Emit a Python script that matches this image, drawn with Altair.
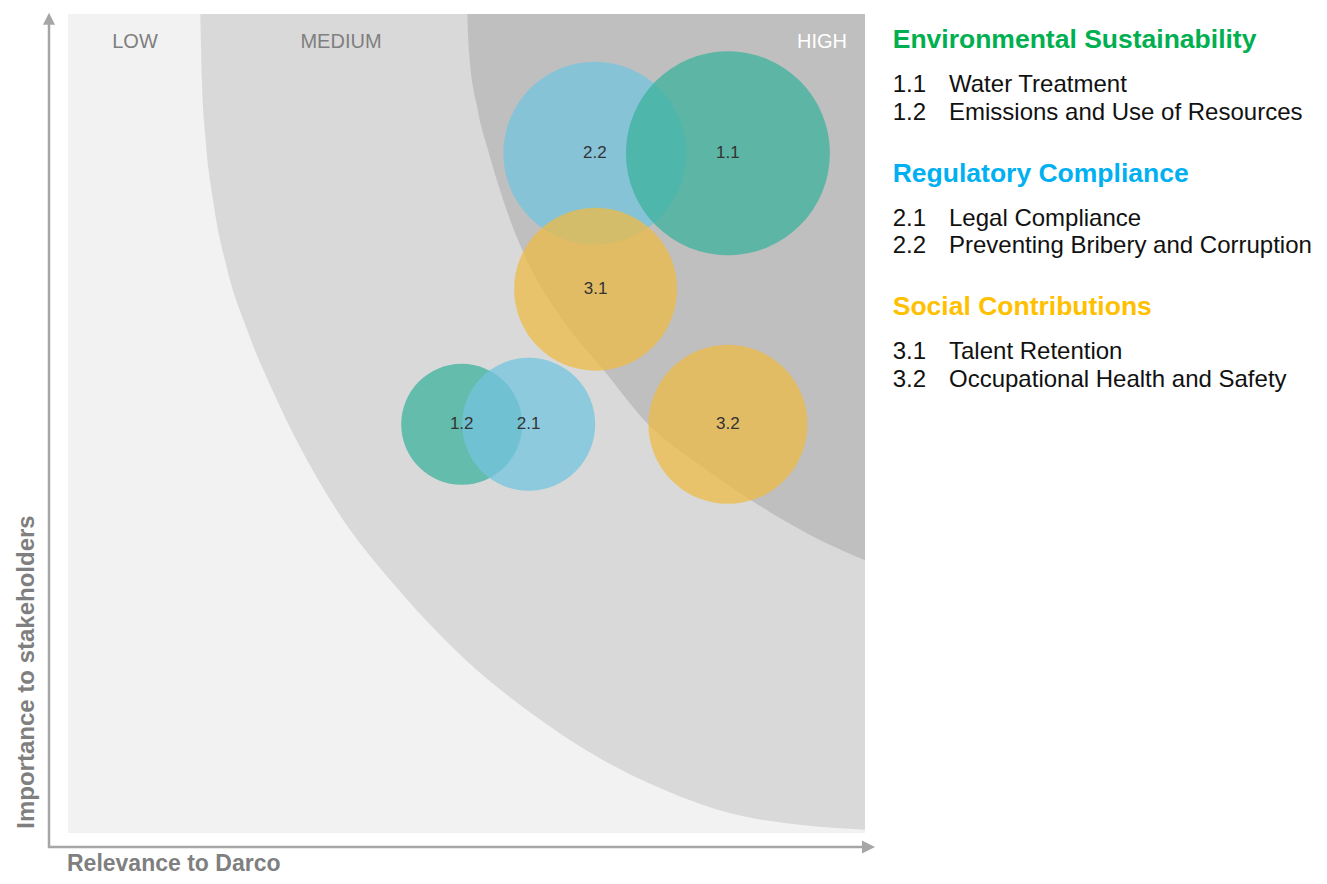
import altair as alt
import pandas as pd

# ---------------- data ----------------
codes = ["2.2", "1.1", "3.1", "1.2", "2.1", "3.2"]
groups = ["Regulatory Compliance", "Environmental Sustainability", "Social Contributions",
          "Environmental Sustainability", "Regulatory Compliance", "Social Contributions"]
relevance = [66.1, 82.8, 66.2, 49.4, 57.8, 82.8]      # x, 0-100
importance = [83.0, 83.0, 66.4, 49.9, 49.9, 49.9]     # y, 0-100
weight = [91.5, 102.0, 81.5, 60.5, 66.5, 79.5]        # bubble magnitude

# zone boundaries (0-100 units)
medium_x = [16.6, 16.8, 17.2, 18.2, 19.9, 22.6, 26.2, 33.8, 41.3, 49.6, 58.0, 66.4, 74.7, 83.1, 91.8, 100.0]
medium_y = [100.0, 91.9, 85.5, 77.3, 69.1, 61.1, 52.9, 39.3, 29.9, 21.4, 14.7, 9.3, 5.3, 2.4, 1.0, 0.4]
high_x = [50.1, 50.3, 51.4, 52.7, 54.6, 56.8, 62.1, 67.4, 72.8, 79.3, 85.6, 93.1, 100.0]
high_y = [100.0, 95.6, 88.3, 83.4, 77.3, 71.6, 62.6, 56.3, 49.9, 44.9, 40.7, 36.4, 33.3]

zone_labels = ["LOW", "MEDIUM", "HIGH"]

group_names = ["Environmental Sustainability", "Regulatory Compliance", "Social Contributions"]
group_title_colors = ["#00b050", "#00b0f0", "#ffc000"]
bubble_colors = ["#3bb19c", "#74c4df", "#ecbb45"]
legend_items = [
    [("1.1", "Water Treatment"), ("1.2", "Emissions and Use of Resources")],
    [("2.1", "Legal Compliance"), ("2.2", "Preventing Bribery and Corruption")],
    [("3.1", "Talent Retention"), ("3.2", "Occupational Health and Safety")],
]

x_title = "Relevance to Darco"
y_title = "Importance to stakeholders"

FONT = "Liberation Sans"

# ---------------- scales ----------------
xs = alt.Scale(domain=[0, 100], range=[60, 857], nice=False, zero=False)
ys = alt.Scale(domain=[0, 100], range=[825, 6], nice=False, zero=False)

bubbles_df = pd.DataFrame({"code": codes, "group": groups, "relevance": relevance,
                           "importance": importance, "weight": weight})
medium_df = pd.DataFrame({"x": medium_x, "y": medium_y, "top": [100.0] * len(medium_x)})
high_df = pd.DataFrame({"x": high_x, "y": high_y, "top": [100.0] * len(high_x)})
bg_df = pd.DataFrame({"x": [0.0], "x2": [100.0], "y": [0.0], "y2": [100.0]})

bg = alt.Chart(bg_df).mark_rect(color="#f2f2f2").encode(
    x=alt.X("x:Q", scale=xs, axis=None), x2="x2:Q",
    y=alt.Y("y:Q", scale=ys, axis=None), y2="y2:Q")

medium = alt.Chart(medium_df).mark_area(color="#d9d9d9", interpolate="monotone").encode(
    x=alt.X("x:Q", scale=xs, axis=None),
    y=alt.Y("y:Q", scale=ys, axis=None), y2="top:Q")

high = alt.Chart(high_df).mark_area(color="#bfbfbf", interpolate="monotone").encode(
    x=alt.X("x:Q", scale=xs, axis=None),
    y=alt.Y("y:Q", scale=ys, axis=None), y2="top:Q")

# Vega circle: radius = sqrt(size)/2  -> size = 4 r^2
bubbles = alt.Chart(bubbles_df).mark_circle(opacity=0.75, strokeWidth=0).encode(
    x=alt.X("relevance:Q", scale=xs, axis=None),
    y=alt.Y("importance:Q", scale=ys, axis=None),
    size=alt.Size("weight:Q", scale=alt.Scale(type="pow", exponent=2, domain=[0, 110],
                                               range=[0, 4 * 110 * 110]), legend=None),
    color=alt.Color("group:N", scale=alt.Scale(domain=group_names, range=bubble_colors), legend=None),
)

bubble_text = alt.Chart(bubbles_df).mark_text(font=FONT, fontSize=17, color="#333333",
                                              baseline="middle", align="center").encode(
    x=alt.X("relevance:Q", scale=xs, axis=None),
    y=alt.Y("importance:Q", scale=ys, axis=None),
    text="code:N")


def txt(s, x, y, size, color, weight="normal", align="left", baseline="alphabetic", angle=0):
    kw = dict(font=FONT, fontSize=size, color=color, fontWeight=weight,
              align=align, baseline=baseline)
    if angle:
        kw["angle"] = angle
    return alt.Chart(pd.DataFrame({"t": [s]})).mark_text(**kw).encode(
        x=alt.value(x), y=alt.value(y), text="t:N")


layers = [bg, medium, high, bubbles, bubble_text]

# zone labels
layers.append(txt(zone_labels[0], 127, 40, 20, "#7f7f7f", align="center"))
layers.append(txt(zone_labels[1], 333, 40, 20, "#7f7f7f", align="center"))
layers.append(txt(zone_labels[2], 839, 40, 20, "#ffffff", align="right"))

# axes arrows
AX = "#a6a6a6"
layers.append(alt.Chart(pd.DataFrame({"a": [0]})).mark_rule(color=AX, strokeWidth=2.5).encode(
    x=alt.value(41), y=alt.value(14), y2=alt.value(840)))
layers.append(alt.Chart(pd.DataFrame({"a": [0]})).mark_rule(color=AX, strokeWidth=2.5).encode(
    x=alt.value(40), x2=alt.value(856), y=alt.value(839)))
layers.append(alt.Chart(pd.DataFrame({"a": [0]})).mark_point(
    shape="M0,-1L1,1L-1,1Z", filled=True, color=AX, opacity=1, size=144).encode(
    x=alt.value(41), y=alt.value(10.7)))
layers.append(alt.Chart(pd.DataFrame({"a": [0]})).mark_point(
    shape="M1,0L-1,-1L-1,1Z", filled=True, color=AX, opacity=1, size=169).encode(
    x=alt.value(860.5), y=alt.value(839)))

# axis titles
layers.append(txt(x_title, 59, 863, 23, "#7f7f7f", weight="bold"))
layers.append(txt(y_title, 26, 664, 24, "#7f7f7f", weight="bold", align="center", angle=270))

# legend
title_base = [40.3, 173.7, 307.0]
for gi, g in enumerate(group_names):
    layers.append(txt(g, 884.7, title_base[gi], 26.5, group_title_colors[gi], weight="bold"))
    for ii, (num, label) in enumerate(legend_items[gi]):
        yb = title_base[gi] + (44.0 if ii == 0 else 71.7)
        layers.append(txt(num, 884.7, yb, 24, "#111111"))
        layers.append(txt(label, 941.0, yb, 24, "#111111"))

chart = alt.layer(*layers).properties(
    width=1310, height=868,
    autosize=alt.AutoSizeParams(type="none"),
    padding=0,
    background="white",
).configure_view(strokeWidth=0)

chart.save("out.html", embed_options={"renderer": "svg", "actions": False})
